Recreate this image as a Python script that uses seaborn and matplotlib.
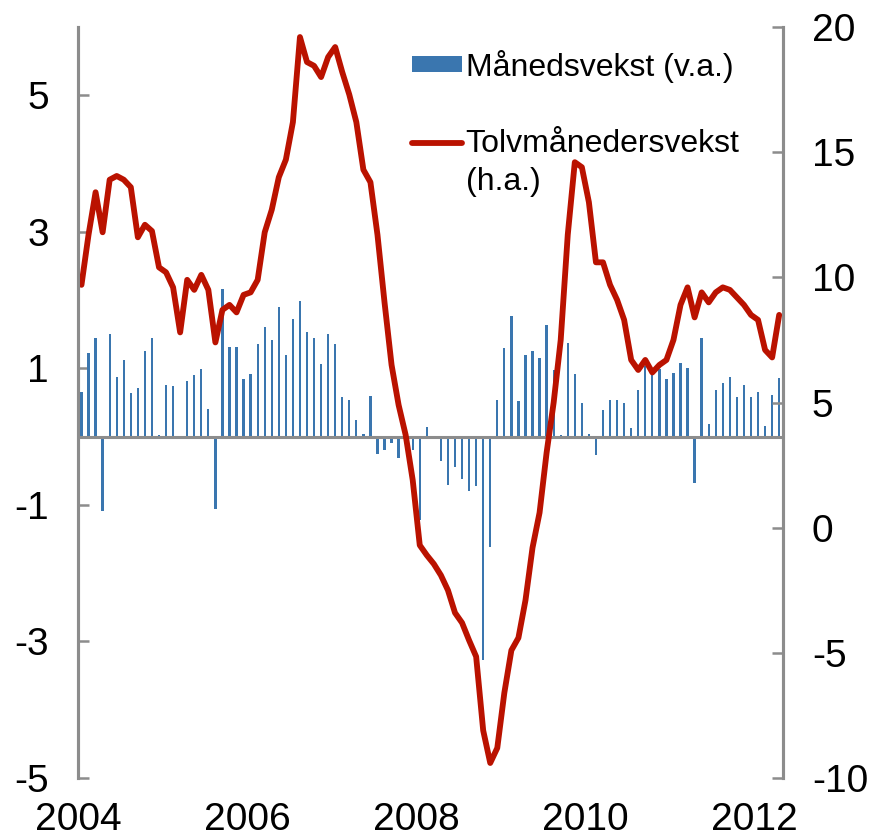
import numpy as np
import pandas as pd
import matplotlib
matplotlib.use("Agg")
import matplotlib.pyplot as plt
from matplotlib.patches import Patch
from matplotlib.lines import Line2D
import seaborn as sns

# monthly data, Jan 2004 - Apr 2012
months = pd.date_range("2004-01-01", periods=100, freq="MS")

manedsvekst = [
    0.65, 1.23, 1.45, -1.09, 1.51, 0.87, 1.12, 0.64, 0.71, 1.25, 1.45, 0.02,
    0.75, 0.74, -0.04, 0.82, 0.90, 0.99, 0.40, -1.06, 2.16, 1.32, 1.32, 0.84,
    0.92, 1.35, 1.61, 1.41, 1.90, 1.19, 1.73, 1.99, 1.53, 1.45, 1.07, 1.51,
    1.35, 0.58, 0.53, 0.25, 0.04, 0.59, -0.26, -0.20, -0.09, -0.31, -0.15, -0.20,
    -1.22, 0.14, 0.00, -0.36, -0.71, -0.45, -0.62, -0.79, -0.72, -3.27, -1.62, 0.54,
    1.30, 1.77, 0.52, 1.20, 1.25, 1.15, 1.64, 0.97, 0.02, 1.37, 0.92, 0.49,
    0.04, -0.27, 0.39, 0.54, 0.53, 0.50, 0.12, 0.68, 1.04, 0.95, 0.99, 0.84,
    0.93, 1.08, 1.00, -0.68, 1.44, 0.18, 0.68, 0.79, 0.87, 0.58, 0.75, 0.58,
    0.66, 0.16, 0.61, 0.86,
]

tolvmanedersvekst = [
    9.7, 11.7, 13.4, 11.8, 13.9, 14.05, 13.9, 13.6, 11.6, 12.1, 11.85, 10.4,
    10.2, 9.6, 7.8, 9.9, 9.5, 10.1, 9.5, 7.4, 8.7, 8.9, 8.6, 9.3,
    9.4, 9.9, 11.8, 12.7, 14.0, 14.7, 16.2, 19.6, 18.6, 18.45, 18.0, 18.8,
    19.2, 18.2, 17.3, 16.2, 14.3, 13.8, 11.7, 9.0, 6.5, 4.9, 3.7, 1.9,
    -0.7, -1.1, -1.45, -1.9, -2.5, -3.4, -3.8, -4.5, -5.15, -8.1, -9.4, -8.8,
    -6.6, -4.9, -4.4, -2.9, -0.8, 0.6, 3.0, 5.0, 7.5, 11.7, 14.6, 14.4,
    13.0, 10.6, 10.6, 9.7, 9.1, 8.3, 6.7, 6.3, 6.7, 6.2, 6.5, 6.7,
    7.5, 8.9, 9.6, 8.4, 9.4, 9.0, 9.4, 9.6, 9.5, 9.2, 8.9, 8.5,
    8.3, 7.1, 6.8, 8.5,
]

year_labels = ["2004", "2006", "2008", "2010", "2012"]
left_ticks = [-5, -3, -1, 1, 3, 5]
right_ticks = [-10, -5, 0, 5, 10, 15, 20]

df = pd.DataFrame({
    "month": months.strftime("%Y-%m"),
    "idx": np.arange(len(months)),
    "mnd": manedsvekst,
    "tolv": tolvmanedersvekst,
})

sns.set_theme(style="white")
plt.rcParams["font.family"] = ["Liberation Sans", "DejaVu Sans"]
plt.rcParams["axes.unicode_minus"] = False
plt.rcParams["text.color"] = "black"
plt.rcParams["xtick.labelcolor"] = "black"
plt.rcParams["ytick.labelcolor"] = "black"

BLUE = "#3A76AF"
RED = "#BA1200"
GREY = "#8C8C8C"

fig = plt.figure(figsize=(8.72, 8.39), dpi=100)
ax = fig.add_axes([0.0894, 0.0727, 0.8082, 0.8951])

sns.barplot(data=df, x="month", y="mnd", color=BLUE, saturation=1,
            width=0.33, linewidth=0, ax=ax)
ax.axhline(0, color=GREY, lw=2.2, zorder=3)

ax2 = ax.twinx()
sns.lineplot(data=df, x="idx", y="tolv", color=RED, linewidth=4.2, ax=ax2)

ax.set_xlim(-0.5, len(months) - 0.5)
ax.set_ylim(-5, 6)
ax2.set_ylim(-10, 20)

ax.set_xticks([i - 0.5 for i in range(0, len(months), 24)])
ax.set_xticklabels(year_labels)
ax.set_yticks(left_ticks)
ax.set_yticklabels([str(t) for t in left_ticks])
ax2.set_yticks(right_ticks)
ax2.set_yticklabels([str(t) for t in right_ticks])

for a in (ax, ax2):
    a.set_xlabel("")
    a.set_ylabel("")
    for s in ("top", "bottom"):
        a.spines[s].set_visible(False)
    for s in ("left", "right"):
        a.spines[s].set_color(GREY)
        a.spines[s].set_linewidth(2.2)

ax.tick_params(axis="y", direction="in", length=8, width=1.8, color=GREY,
               labelsize=28, pad=21, labelcolor="black")
ax.tick_params(axis="x", length=0, labelsize=28, pad=17, labelcolor="black")
ax2.tick_params(axis="y", direction="in", length=8, width=1.8, color=GREY,
                labelsize=28, pad=21, labelcolor="black")

handles = [
    Patch(facecolor=BLUE, edgecolor="none"),
    Line2D([0], [0], color=RED, lw=4.2),
]
leg = ax2.legend(handles, ["Månedsvekst (v.a.)", "Tolvmånedersvekst"],
                 loc="upper left", bbox_to_anchor=(0.4725, 0.941),
                 bbox_transform=fig.transFigure, frameon=False, fontsize=23,
                 borderpad=0, borderaxespad=0, handlelength=1.56,
                 handleheight=0.4, handletextpad=0.12, labelspacing=1.47)
for t in leg.get_texts():
    t.set_color("black")
fig.text(466 / 872, 1 - 182 / 839, "(h.a.)", fontsize=23, va="center",
         ha="left", color="black")

fig.savefig("out.png", dpi=100)
